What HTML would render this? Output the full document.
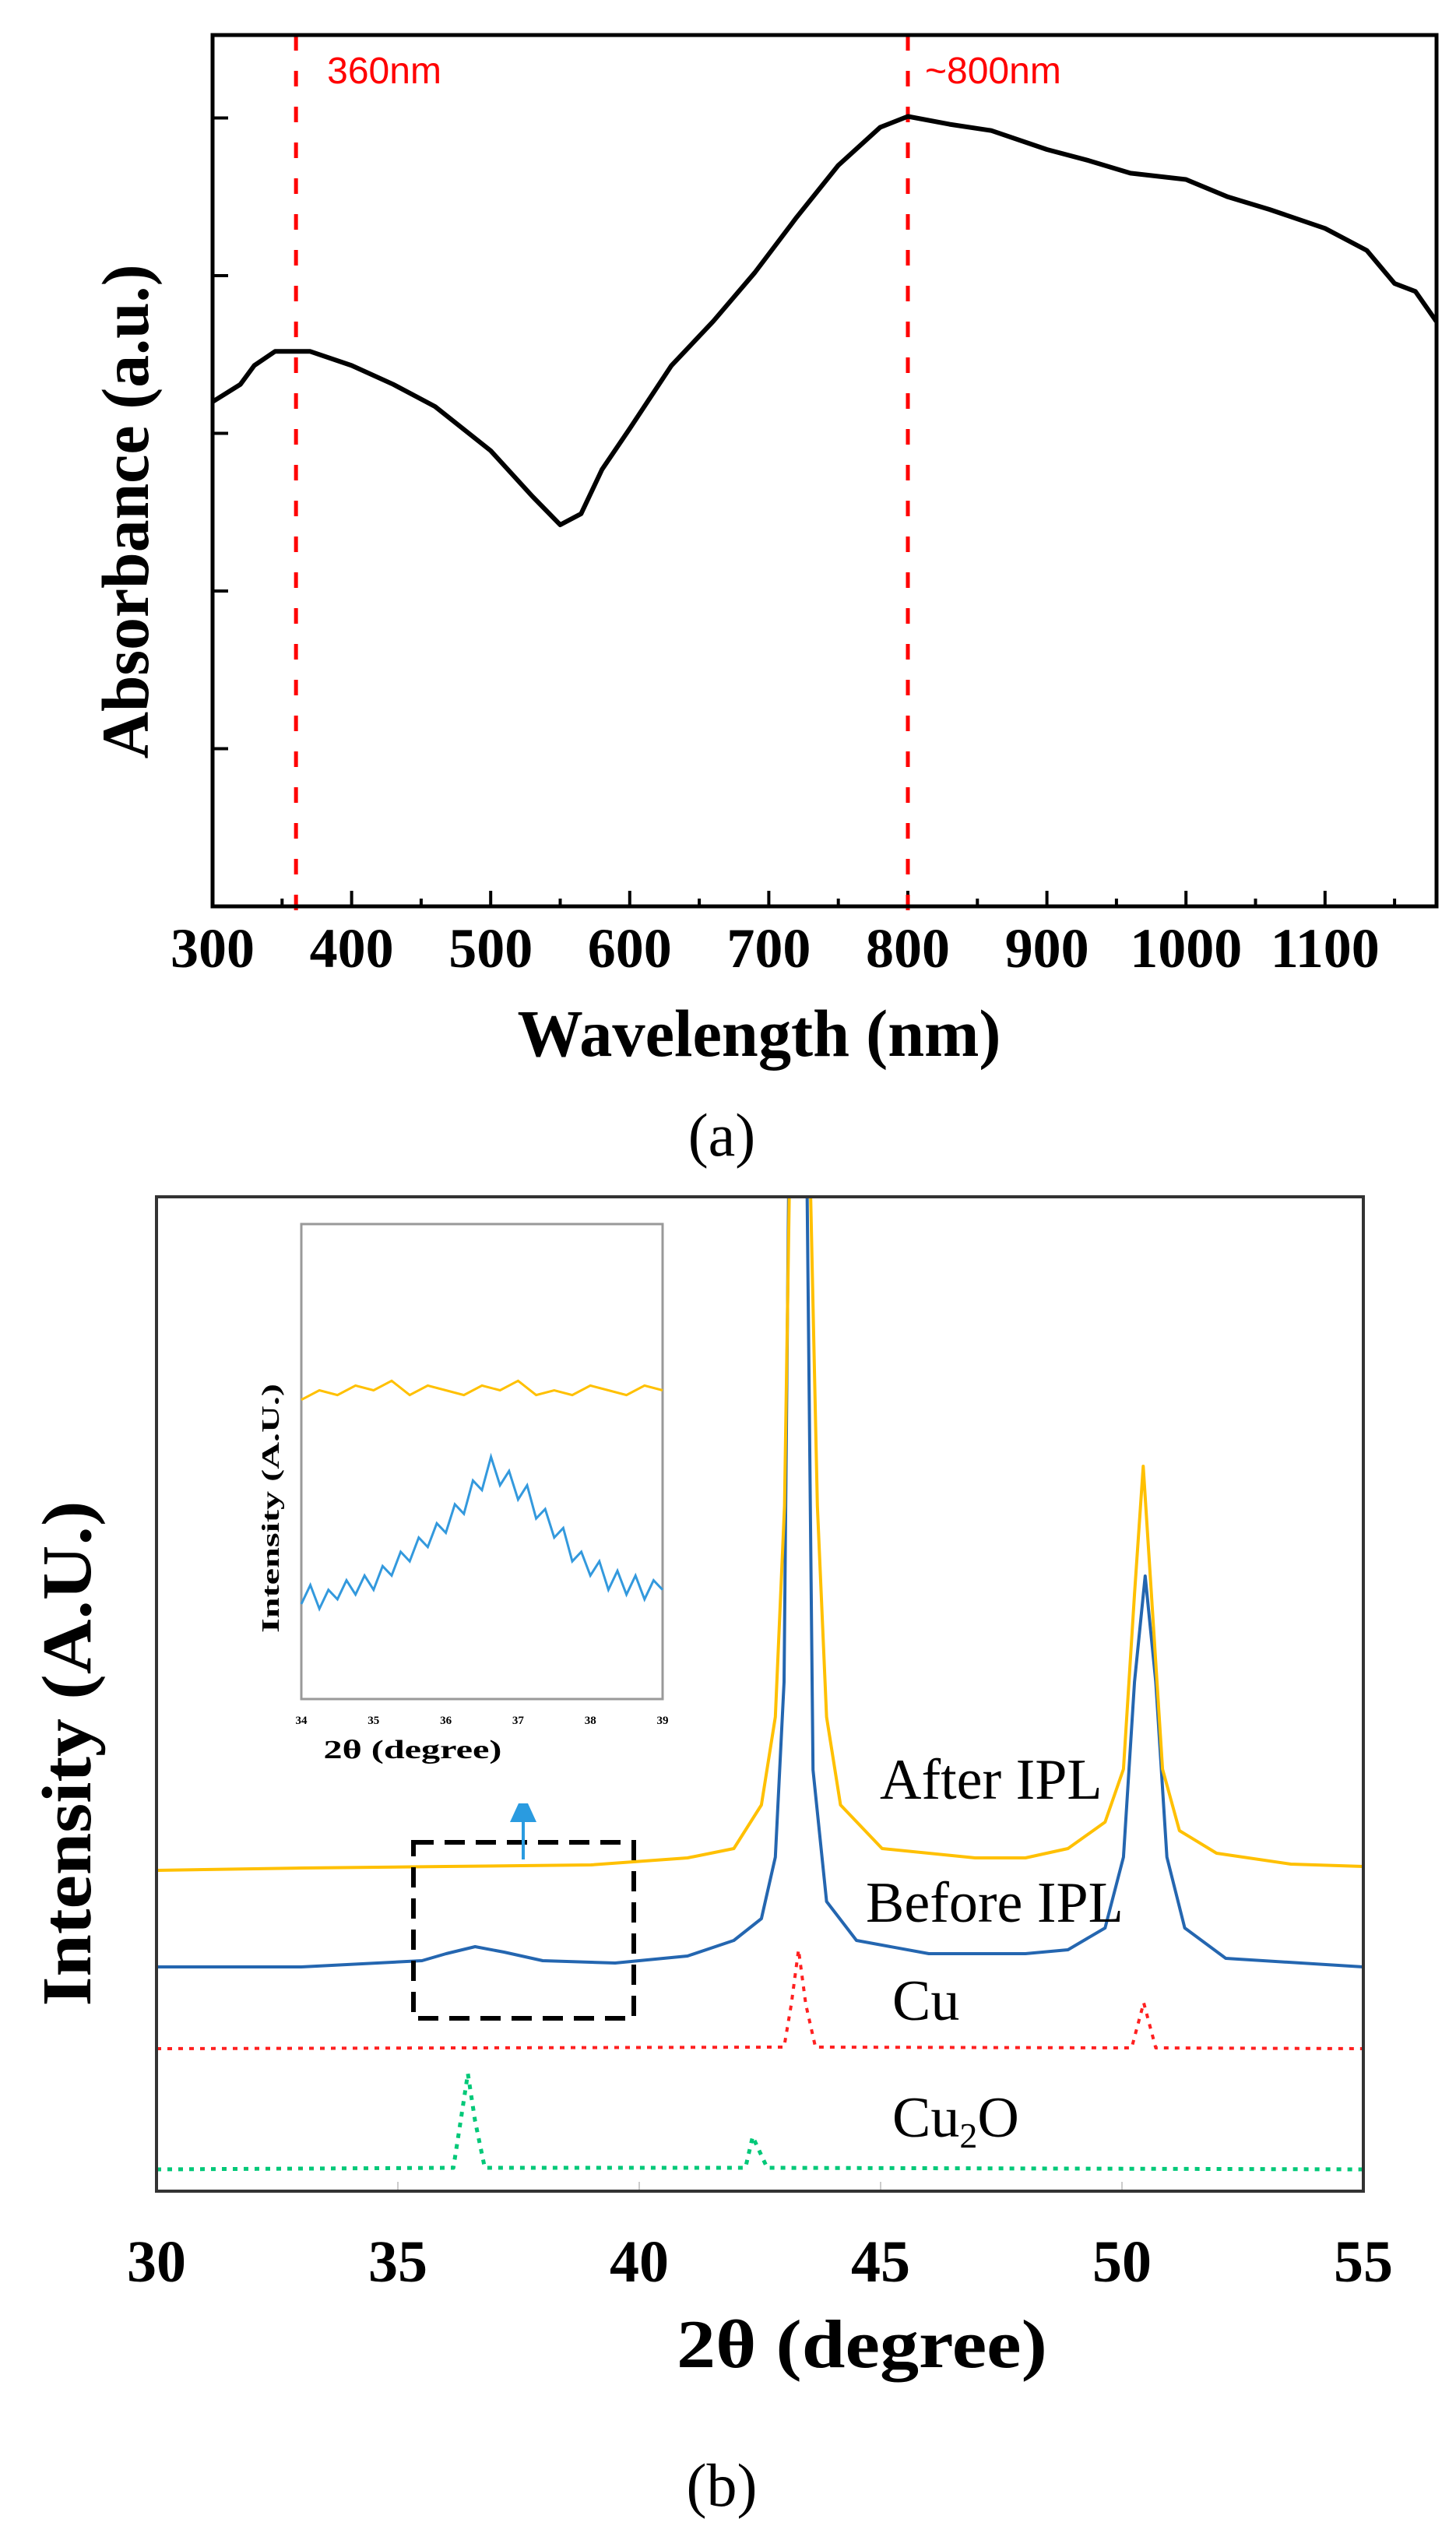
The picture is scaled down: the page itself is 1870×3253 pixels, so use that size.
<!DOCTYPE html>
<html><head><meta charset="utf-8"><style>
html,body{margin:0;padding:0;background:#fff;}
svg{display:block;}
</style></head><body>
<svg id="fig" width="1870" height="3253" viewBox="0 0 1870 3253" xmlns="http://www.w3.org/2000/svg"></svg>
<script>
// ---- Chart (a) data ----
const absWavelength = [300,320,330,345,370,400,430,460,500,530,550,565,580,600,630,660,690,720,750,780,800,830,860,900,930,960,1000,1030,1060,1100,1130,1150,1165,1180];
const absValues = [3.2,3.31,3.43,3.52,3.52,3.43,3.31,3.17,2.89,2.6,2.42,2.49,2.77,3.03,3.43,3.71,4.02,4.37,4.70,4.94,5.01,4.96,4.92,4.80,4.73,4.65,4.61,4.50,4.42,4.30,4.16,3.95,3.90,3.71];
const absXTicks = [300,400,500,600,700,800,900,1000,1100];
const absYTicks = [1,2,3,4,5];
const markerLines = [360,800];
const markerLabels = ["360nm","~800nm"];

// ---- Chart (b) data ----
const afterDeg = [30,33,36,39,41,41.96,42.53,42.82,43.01,43.15,43.49,43.69,43.88,44.17,45.03,46.96,48,48.88,49.65,50.03,50.26,50.44,50.61,50.84,51.19,51.96,53.5,55];
const afterInt = [41.2,41.5,41.7,41.9,42.8,44.0,49.6,60.9,88.0,145,145,88.0,60.9,49.6,44.0,42.8,42.8,44.0,47.4,54.2,76.7,93.1,76.7,54.2,46.3,43.4,42.0,41.7];
const beforeDeg = [30,33,35.5,36,36.6,37.2,38,39.5,41,41.96,42.53,42.82,43,43.12,43.45,43.6,43.88,44.5,46,48,48.88,49.65,50.03,50.26,50.48,50.7,50.93,51.3,52.15,55];
const beforeInt = [28.8,28.8,29.6,30.5,31.4,30.7,29.6,29.3,30.2,32.2,35.0,42.9,65.4,145,145,54.1,37.2,32.2,30.5,30.5,31.0,33.8,42.9,65.4,79.0,65.4,42.9,33.8,29.9,28.8];
const cuDeg = [30,43.0,43.15,43.3,43.45,43.65,50.2,50.45,50.7,55];
const cuInt = [18.3,18.5,24,31.0,24,18.5,18.4,24.2,18.4,18.3];
const cu2oDeg = [30,36.15,36.3,36.45,36.6,36.8,42.2,42.35,42.5,42.65,55];
const cu2oInt = [2.8,3.0,9,15.1,9,3.0,3.0,7.0,5,3.0,2.8];
const bXTicks = [30,35,40,45,50,55];

// ---- Inset data ----
const insetBlueDeg = [34,34.125,34.25,34.375,34.5,34.625,34.75,34.875,35,35.125,35.25,35.375,35.5,35.625,35.75,35.875,36,36.125,36.25,36.375,36.5,36.625,36.75,36.875,37,37.125,37.25,37.375,37.5,37.625,37.75,37.875,38,38.125,38.25,38.375,38.5,38.625,38.75,38.875,39];
const insetBlueInt = [20,24,19,23,21,25,22,26,23,28,26,31,29,34,32,37,35,41,39,46,44,51,45,48,42,45,38,40,34,36,29,31,26,29,23,27,22,26,21,25,23];
const insetYellowDeg = [34,34.25,34.5,34.75,35,35.25,35.5,35.75,36,36.25,36.5,36.75,37,37.25,37.5,37.75,38,38.25,38.5,38.75,39];
const insetYellowInt = [63,65,64,66,65,67,64,66,65,64,66,65,67,64,65,64,66,65,64,66,65];
const insetTicks = [34,35,36,37,38,39];

const NS = "http://www.w3.org/2000/svg";
const svg = document.getElementById('fig');
function mk(tag, attrs, parent, text){
  const e = document.createElementNS(NS, tag);
  for (const k in attrs) e.setAttribute(k, attrs[k]);
  if (text !== undefined) e.textContent = text;
  (parent || svg).appendChild(e);
  return e;
}
function pathFrom(xs, ys, fx, fy){
  return xs.map((x,i)=>(i?'L':'M')+fx(x).toFixed(1)+','+fy(ys[i]).toFixed(1)).join(' ');
}

// ===== Chart (a) =====
const aL=273, aR=1845, aT=45, aB=1164;
const ax = v => aL + (v-300)*1.786;
const ay = v => aB - v*202.5;
const ga = mk('g', {});


const aClip = mk('clipPath',{id:'clipA'},ga);
mk('rect',{x:aL,y:aT,width:aR-aL,height:aB-aT},aClip);

absXTicks.forEach(t=>{
  const l = mk('line',{x1:ax(t),x2:ax(t),y1:aB,y2:aB-20,stroke:'#000','stroke-width':4},ga);
  
  
  const m = mk('line',{x1:ax(t+50),x2:ax(t+50),y1:aB,y2:aB-10,stroke:'#000','stroke-width':4},ga);
  
  
  const tx = mk('text',{x:ax(t),y:1242,'text-anchor':'middle','font-family':'Liberation Serif, serif','font-weight':'bold','font-size':72},ga,String(t));
  
  
});
absYTicks.forEach(t=>{
  const l = mk('line',{x1:aL,x2:aL+20,y1:ay(t),y2:ay(t),stroke:'#000','stroke-width':4},ga);
  
  
});
markerLines.forEach((w,i)=>{
  const l = mk('line',{x1:ax(w),x2:ax(w),y1:aT,y2:aB+6,stroke:'#ff0000','stroke-width':5,'stroke-dasharray':'20 26'},ga);
  
  
  const t = mk('text',{x:ax(w)+(i===0?40:22),y:107,'font-family':'Liberation Sans, sans-serif','font-size':48,fill:'#ff0000'},ga,markerLabels[i]);
  
  
});
const aLine = mk('path',{d:pathFrom(absWavelength,absValues,ax,ay),fill:'none',stroke:'#000','stroke-width':6,'stroke-linejoin':'round','clip-path':'url(#clipA)'},ga);


const aFrame = mk('path',{d:`M${aL},${aB} L${aL},${aT} L${aR},${aT} L${aR},${aB} Z`,fill:'none',stroke:'#000','stroke-width':5},ga);


const axt = mk('text',{x:975,y:1356,'text-anchor':'middle','font-family':'Liberation Serif, serif','font-weight':'bold','font-size':86,textLength:621,lengthAdjust:'spacingAndGlyphs'},ga,'Wavelength (nm)');


const ayt = mk('text',{x:0,y:0,transform:'translate(190,657) rotate(-90)','text-anchor':'middle','font-family':'Liberation Serif, serif','font-weight':'bold','font-size':86,textLength:635,lengthAdjust:'spacingAndGlyphs'},ga,'Absorbance (a.u.)');


const capA = mk('text',{x:927,y:1484,'text-anchor':'middle','font-family':'Liberation Serif, serif','font-size':78},ga,'(a)');



// ===== Chart (b) =====
const bL=201, bR=1751, bT=1537, bB=2814;
const bx = v => bL + (v-30)*62.0;
const by = v => bB - v*10;
const gb = mk('g', {});


const bClip = mk('clipPath',{id:'clipB'},gb);
mk('rect',{x:bL,y:bT,width:bR-bL,height:bB-bT},bClip);

bXTicks.forEach(t=>{
  const l = mk('line',{x1:bx(t),x2:bx(t),y1:bB,y2:bB-12,stroke:'#ccc','stroke-width':2},gb);
  
  
  const tx = mk('text',{x:bx(t),y:2930,'text-anchor':'middle','font-family':'Liberation Serif, serif','font-weight':'bold','font-size':76},gb,String(t));
  
  
});
const series = [
  [cu2oDeg,cu2oInt,'#00c878',5,'6 8','cu2o-reference-line'],
  [cuDeg,cuInt,'#ff2020',4,'6 8','cu-reference-line'],
  [beforeDeg,beforeInt,'#2466b0',4,null,'before-ipl-line'],
  [afterDeg,afterInt,'#ffc000',4,null,'after-ipl-line']
];
series.forEach(s=>{
  const a = {d:pathFrom(s[0],s[1],bx,by),fill:'none',stroke:s[2],'stroke-width':s[3],'stroke-linejoin':'round','clip-path':'url(#clipB)'};
  if (s[4]) a['stroke-dasharray']=s[4];
  const p = mk('path',a,gb);
  
  
});
const bFrame = mk('rect',{x:bL,y:bT,width:bR-bL,height:bB-bT,fill:'none',stroke:'#333','stroke-width':4},gb);



const labels = [['After IPL',1130,2310,'label-after-ipl'],['Before IPL',1112,2468,'label-before-ipl'],['Cu',1146,2594,'label-cu']];
labels.forEach(l=>{
  const t = mk('text',{x:l[1],y:l[2],'font-family':'Liberation Serif, serif','font-size':74},gb,l[0]);
  
  
});
const cu2o = mk('text',{x:1146,y:2744,'font-family':'Liberation Serif, serif','font-size':74},gb);


mk('tspan',{},cu2o,'Cu');
mk('tspan',{'font-size':46,dy:14},cu2o,'2');
mk('tspan',{dy:-14},cu2o,'O');

const box = mk('rect',{x:531,y:2366,width:283,height:226,fill:'none',stroke:'#000','stroke-width':6,'stroke-dasharray':'26 14'},gb);


const arr = mk('g',{},gb);


mk('line',{x1:672,x2:672,y1:2388,y2:2335,stroke:'#2a9be0','stroke-width':4},arr);
mk('polygon',{points:'655,2340 689,2340 678,2316 666,2316',fill:'#2a9be0'},arr);

const bxt = mk('text',{x:1107,y:3040,'text-anchor':'middle','font-family':'Liberation Serif, serif','font-weight':'bold','font-size':88,textLength:476,lengthAdjust:'spacingAndGlyphs'},gb,'2θ (degree)');


const byt = mk('text',{x:0,y:0,transform:'translate(116,2252) rotate(-90)','text-anchor':'middle','font-family':'Liberation Serif, serif','font-weight':'bold','font-size':90,textLength:649,lengthAdjust:'spacingAndGlyphs'},gb,'Intensity (A.U.)');


const capB = mk('text',{x:927,y:3218,'text-anchor':'middle','font-family':'Liberation Serif, serif','font-size':78},gb,'(b)');



// ===== Inset =====
const iL=387, iR=851, iT=1572, iB=2182;
const ix = v => iL + (v-34)*92.8;
const iy = v => iB - v*6.1;
const gi = mk('g',{},gb);


const iFrame = mk('rect',{x:iL,y:iT,width:iR-iL,height:iB-iT,fill:'#fff',stroke:'#999','stroke-width':3},gi);


const iy1 = mk('path',{d:pathFrom(insetYellowDeg,insetYellowInt,ix,iy),fill:'none',stroke:'#ffc000','stroke-width':3},gi);


const ib1 = mk('path',{d:pathFrom(insetBlueDeg,insetBlueInt,ix,iy),fill:'none',stroke:'#3399dd','stroke-width':3},gi);


insetTicks.forEach(t=>{
  const tx = mk('text',{x:ix(t),y:2214,'text-anchor':'middle','font-family':'Liberation Serif, serif','font-weight':'bold','font-size':15},gi,String(t));
  
  
});
const ixt = mk('text',{x:530,y:2258,'text-anchor':'middle','font-family':'Liberation Serif, serif','font-weight':'bold','font-size':34,textLength:229,lengthAdjust:'spacingAndGlyphs'},gi,'2θ (degree)');


const iyt = mk('text',{x:0,y:0,transform:'translate(358,1937) rotate(-90)','text-anchor':'middle','font-family':'Liberation Serif, serif','font-weight':'bold','font-size':32,textLength:320,lengthAdjust:'spacingAndGlyphs'},gi,'Intensity (A.U.)');


</script>
</body></html>
